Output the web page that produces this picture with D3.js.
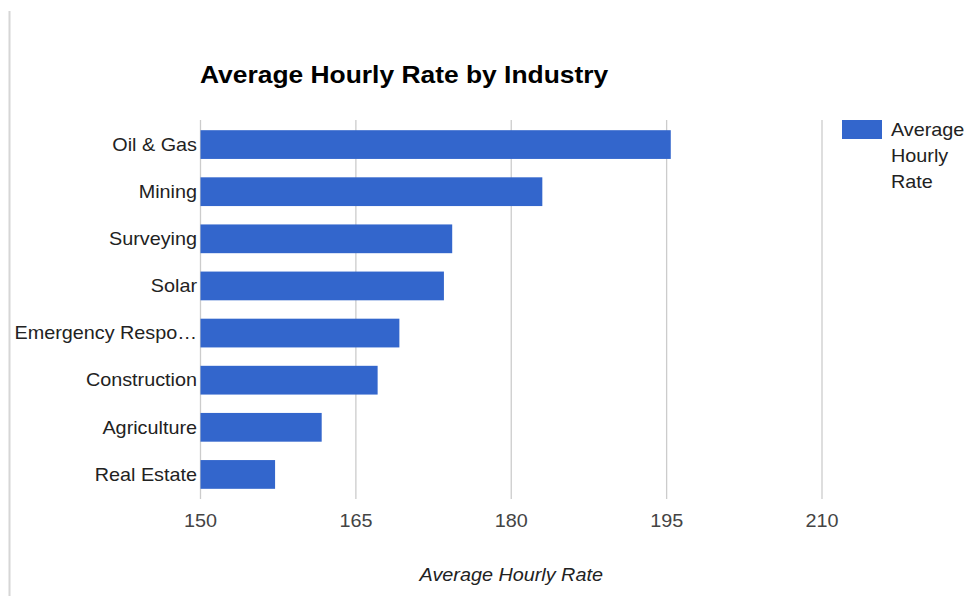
<!DOCTYPE html>
<html>
<head>
<meta charset="utf-8">
<script src="https://cdn.jsdelivr.net/npm/d3@7"></script>
<style>
  html, body { margin: 0; padding: 0; background: #fff; }
  svg { display: block; font-family: "Liberation Sans", Arial, sans-serif; }
</style>
</head>
<body>
<svg id="chart" width="967" height="596"></svg>
<script>
// Chart data
const industries = ["Oil & Gas", "Mining", "Surveying", "Solar", "Emergency Respo…", "Construction", "Agriculture", "Real Estate"];
const hourlyRates = [195.4, 183.0, 174.3, 173.5, 169.2, 167.1, 161.7, 157.2];
const tickValues = [150, 165, 180, 195, 210];
const seriesName = "Average Hourly Rate";
const chartTitle = "Average Hourly Rate by Industry";

const svg = d3.select("#chart");
const plot = { left: 200.5, right: 822, top: 121, bottom: 498 };
const stretch = 1.1; // slightly wide lettering

// place a text at (px, py) with horizontal stretch
const at = (px, py) => `translate(${px},${py}) scale(${stretch},1)`;

// frame line on the left edge
svg.append("line")
  .attr("x1", 9.5).attr("x2", 9.5).attr("y1", 11).attr("y2", 596)
  .attr("stroke", "#d6d6d6").attr("stroke-width", 2);

const x = d3.scaleLinear().domain([150, 210]).range([plot.left, plot.right]);
const y = d3.scaleBand().domain(industries).range([plot.top, plot.bottom])
  .paddingInner(0.39).paddingOuter(0.195);

// vertical gridlines
svg.append("g").selectAll("line").data(tickValues).join("line")
  .attr("x1", d => x(d)).attr("x2", d => x(d))
  .attr("y1", 120).attr("y2", 499)
  .attr("stroke", "#cccccc").attr("stroke-width", 1.3);

// bars
svg.append("g").selectAll("rect").data(industries).join("rect")
  .attr("x", x(150))
  .attr("y", d => y(d))
  .attr("width", (d, i) => x(hourlyRates[i]) - x(150))
  .attr("height", y.bandwidth())
  .attr("fill", "#3366cc");

// category labels
svg.append("g").selectAll("text").data(industries).join("text")
  .attr("transform", d => at(197, y(d) + y.bandwidth() / 2))
  .attr("dy", "0.35em")
  .attr("text-anchor", "end")
  .attr("font-size", 18)
  .attr("fill", "#222")
  .text(d => d);

// x tick labels
svg.append("g").selectAll("text").data(tickValues).join("text")
  .attr("transform", d => at(x(d), 527))
  .attr("text-anchor", "middle")
  .attr("font-size", 18)
  .attr("fill", "#444")
  .text(d => d);

// axis title
svg.append("text")
  .attr("transform", at((plot.left + plot.right) / 2, 581))
  .attr("text-anchor", "middle")
  .attr("font-size", 18)
  .attr("font-style", "italic")
  .attr("fill", "#222")
  .text(seriesName);

// chart title
svg.append("text")
  .attr("transform", at(200, 83))
  .attr("font-size", 24)
  .attr("font-weight", "bold")
  .attr("fill", "#000")
  .text(chartTitle);

// legend
const legend = svg.append("g");
legend.append("rect")
  .attr("x", 842).attr("y", 120).attr("width", 40).attr("height", 19)
  .attr("fill", "#3366cc");
legend.selectAll("text").data(seriesName.split(" ")).join("text")
  .attr("transform", (d, i) => at(891, 136 + i * 26))
  .attr("font-size", 18).attr("fill", "#222")
  .text(d => d);
</script>
</body>
</html>
